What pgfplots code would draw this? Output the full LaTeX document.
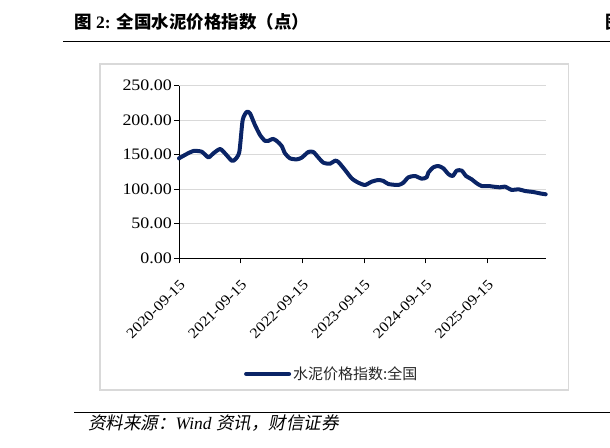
\documentclass[border=0pt]{standalone}
\usepackage{pgfplots}
\pgfplotsset{compat=1.18}
\usepackage{fontspec}
\setmainfont{Liberation Serif}
\newfontfamily\tickfont[FakeStretch=1.12]{Liberation Serif}
\newfontfamily\cjk{Noto Sans CJK SC}
\newfontfamily\cjkit[FakeSlant=0.2]{Noto Sans CJK SC}
\definecolor{navy}{RGB}{10,36,102}
\definecolor{boxgray}{RGB}{217,217,217}

\pgfplotstableread{
t v
0.000 144.8
0.124 151.0
0.232 155.4
0.368 154.4
0.476 146.2
0.557 152.0
0.665 158.3
0.746 152.0
0.854 141.4
0.908 143.0
0.978 154.0
1.032 200.0
1.097 212.0
1.151 210.0
1.232 193.0
1.314 178.6
1.395 170.0
1.449 170.0
1.519 173.0
1.584 170.0
1.665 162.6
1.719 152.0
1.800 144.8
1.908 143.3
1.989 145.7
2.097 154.0
2.178 154.0
2.259 146.0
2.341 138.5
2.449 137.0
2.530 141.4
2.584 139.5
2.692 128.0
2.800 115.8
2.908 109.5
3.016 106.2
3.124 111.0
3.232 113.4
3.314 112.0
3.395 107.6
3.557 106.2
3.638 109.5
3.719 117.3
3.827 119.2
3.935 115.3
4.016 117.3
4.043 124.0
4.124 131.8
4.205 133.7
4.286 130.3
4.368 122.0
4.438 119.2
4.503 127.0
4.584 127.0
4.654 119.2
4.746 114.4
4.827 108.6
4.908 104.7
5.016 104.7
5.097 103.8
5.205 102.8
5.286 103.8
5.395 99.0
5.503 100.0
5.611 97.5
5.746 96.0
5.854 94.0
5.946 92.7
}\cementdata

\begin{document}
\begin{tikzpicture}[x=1pt,y=1pt]
\useasboundingbox (0,0) rectangle (610,447);
% title and rules
\node[anchor=west,inner sep=0pt] at (74,425) {\fontsize{17.5}{19}\selectfont{\cjk\bfseries 图} {\bfseries 2:}\hspace{0.35em}{\cjk\bfseries 全国水泥价格指数（点）}};
\node[anchor=west,inner sep=0pt] at (605,425) {\fontsize{17.5}{19}\selectfont\cjk\bfseries 图};
\draw[line width=1.3pt] (63,405.3) -- (610,405.3);
\draw[line width=1.3pt] (74,34.7) -- (610,34.7);
\node[anchor=west,inner sep=0pt] at (88,24) {\fontsize{17.5}{19}\selectfont{\cjkit 资料来源：}\textit{Wind} {\cjkit 资讯，财信证券}};
% chart frame
\draw[boxgray,line width=1.2pt] (100,57) rectangle (568.3,383);

\begin{axis}[
    at={(179pt,188.7pt)}, anchor=origin,
    scale only axis,
    width=366.7pt, height=172.6pt,
    xmin=0, xmax=5.946,
    ymin=0, ymax=250,
    axis x line=bottom, axis y line=left,
    axis line style={-, line width=1pt, black},
    xtick={0,1,2,3,4,5},
    xticklabels={2020-09-15,2021-09-15,2022-09-15,2023-09-15,2024-09-15,2025-09-15},
    ytick={0,50,100,150,200,250},
    tick align=outside,
    major tick length=5pt,
    tick style={line width=1pt, black},
    ymajorgrids,
    grid style={boxgray, line width=1.2pt},
    /pgf/number format/assume math mode=true,
    yticklabel={\pgfmathprintnumber[fixed,fixed zerofill,precision=2]{\tick}},
    yticklabel style={font=\tickfont\fontsize{16}{17}\selectfont, text=black, inner sep=2pt},
    xticklabel shift=14pt,
    xticklabel style={font=\tickfont\fontsize{14.5}{15}\selectfont, text=black,
        rotate=45, anchor=north east, inner sep=1pt},
    legend style={at={(0.177,-0.67)}, anchor=west, draw=none, fill=none,
        inner sep=0pt, font=\cjk\fontsize{15}{16}\selectfont, text=black!85},
    legend image code/.code={\draw[#1] (0pt,0pt) -- (43pt,0pt);},
    clip=false,
]
\addplot[navy, line width=4pt, line join=round, line cap=round, smooth, tension=0.4] table[x=t,y=v] {\cementdata};
\addlegendentry{水泥价格指数:全国}
\end{axis}
\end{tikzpicture}
\end{document}
